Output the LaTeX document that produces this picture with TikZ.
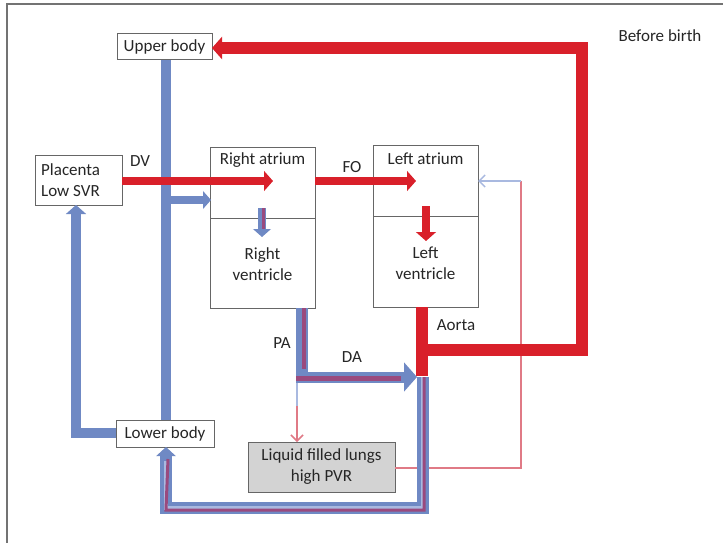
\documentclass[tikz,border=0pt]{standalone}
\usepackage{fontspec}
\setmainfont{Carlito}
\usetikzlibrary{arrows.meta,calc}
\definecolor{bl}{HTML}{6F89C4}
\definecolor{rd}{HTML}{D9202A}
\definecolor{pu}{HTML}{9A4A7E}
\definecolor{pk}{HTML}{E07A86}
\definecolor{lb}{HTML}{A9B9E0}
\definecolor{gr}{HTML}{D3D3D3}
\tikzset{
  box/.style={draw=black!60, line width=1pt, fill=white, inner sep=0pt, align=center},
  txt/.style={font=\fontsize{17}{21}\selectfont, text=black!85, inner sep=0pt, align=center},
  bluef/.style={draw=bl, line width=10pt},
  redf/.style={draw=rd, line width=12pt},
  bigtip/.style={-{Triangle[width=#1*2.2, length=#1*1.0]}},
}
\begin{document}
\begin{tikzpicture}[x=1pt,y=-1pt]
\useasboundingbox (0,0) rectangle (723,543);
\fill[white] (0,0) rectangle (723,543);
\draw[black!55, line width=1.2pt] (7,543) -- (7,4) -- (723,4);

% boxes
\node[box, minimum width=95, minimum height=26] (ub) at (164.5,47) {};
\node[box, minimum width=87, minimum height=50] (pl) at (78.5,180) {};
\node[box, minimum width=105, minimum height=71] (ra) at (262.5,182.5) {};
\node[box, minimum width=105, minimum height=90] (rv) at (262.5,263) {};
\node[box, minimum width=105, minimum height=71] (la) at (425.5,180.5) {};
\node[box, minimum width=105, minimum height=91] (lv) at (425.5,261.5) {};
\node[box, minimum width=98, minimum height=27] (lb) at (165,433.5) {};
\node[box, fill=gr, minimum width=147, minimum height=50] (lu) at (321.5,467) {};

% coordinates
\coordinate (vtop) at (166,60);
\coordinate (vbot) at (166,420);
\coordinate (vbr) at (166,200);
\coordinate (ratip) at (211,200);
\coordinate (dvs) at (122,181);
\coordinate (dve) at (273,181);
\coordinate (fos) at (315,181);
\coordinate (foe) at (416,181);
\coordinate (lad1) at (426,206);
\coordinate (lad2) at (426,241);
\coordinate (rad1) at (262,208);
\coordinate (rad2) at (262,237);
\coordinate (aos) at (422,307);
\coordinate (aoe) at (422,376);
\coordinate (aoj) at (422,350);
\coordinate (aor) at (582,350);
\coordinate (aot) at (582,48);
\coordinate (ubtip) at (212,48);
\coordinate (pas) at (302,308);
\coordinate (pac) at (302,377);
\coordinate (dae) at (417,377);
\coordinate (thin1) at (297,377);
\coordinate (thin2) at (297,442);
\coordinate (da2) at (423,377);
\coordinate (db) at (423,508);
\coordinate (dl) at (166,508);
\coordinate (lbtip) at (166,447);
\coordinate (lu1) at (395,468);
\coordinate (lu2) at (521,468);
\coordinate (lu3) at (521,181);
\coordinate (latip) at (478,181);
\coordinate (lbl) at (116,433);
\coordinate (plc) at (76,433);
\coordinate (pltip) at (76,205);

% blue systemic veins
\draw[bluef] (vtop) -- (vbot);
\draw[draw=bl, line width=8pt, bigtip=8pt] (vbr) -- (ratip);
\draw[bluef, bigtip=9pt] (lbl) -- (plc) -- (pltip);

% thin lung lines
\draw[pk, line width=1.2pt] (lu1) -- (lu2) -- (lu3);
\draw[lb, line width=1.5pt, -{Straight Barb[width=12pt,length=6pt]}] (lu3) -- (latip);
\draw[lb, line width=1.5pt] (thin1) -- ($(thin1)!0.5!(thin2)$);
\draw[pk, line width=1.5pt, -{Straight Barb[width=12pt,length=6pt]}] ($(thin1)!0.45!(thin2)$) -- (thin2);

% red
\draw[draw=rd, line width=8pt, bigtip=9pt] (dvs) -- (dve);
\draw[draw=rd, line width=8pt, bigtip=9pt] (fos) -- (foe);
\draw[draw=rd, line width=8pt, bigtip=9pt] (lad1) -- (lad2);
\draw[redf, bigtip=10pt] (aoj) -- (aor) -- (aot) -- (ubtip);
\draw[redf] (aos) -- (aoe);

% mixed
\draw[draw=bl, line width=8pt, bigtip=8pt] (rad1) -- (rad2);
\draw[draw=pu, line width=3pt] ($(rad1)+(1,0)$) -- ($(rad2)+(1,-8)$);
\draw[draw=bl, line width=12pt] (pas) -- (pac);
\draw[draw=pu, line width=4pt] ($(pas)+(2,0)$) -- ($(pac)+(2,-8)$);
\draw[draw=bl, line width=11pt, bigtip=13pt] ($(pac)+(-6,0)$) -- (dae);
\draw[draw=pu, line width=5pt] ($(pac)+(-6,1)$) -- ($(dae)+(-16,1)$);
\draw[draw=bl, line width=12pt] (da2) -- (db) -- (dl) -- ($(lbtip)+(0,12)$);
\draw[draw=bl, line width=12pt, -{Triangle[width=19pt, length=9pt]}] ($(lbtip)+(0,13)$) -- (lbtip);
\draw[draw=lb, line width=4pt] (da2) -- (db) -- (dl) -- ($(lbtip)+(0,14)$);
\draw[draw=pu, line width=3pt] ($(da2)+(1,0)$) -- ($(db)+(1,2)$) -- ($(dl)+(0,2)$) -- ($(lbtip)+(2,12)$);

% texts
\node[txt] (tub) at (ub) {Upper body};
\node[txt, align=left, anchor=west] (tpl) at (41,180) {Placenta\\Low SVR};
\node[txt] (tra) at (262.5,160) {Right atrium};
\node[txt] (trv) at (262.5,264) {Right\\ventricle};
\node[txt] (tla) at (425.5,159) {Left atrium};
\node[txt] (tlv) at (425.5,263) {Left\\ventricle};
\node[txt] (tlb) at (lb) {Lower body};
\node[txt] (tlu) at (lu) {Liquid filled lungs\\high PVR};
\node[txt] (tdv) at (140,161) {DV};
\node[txt] (tfo) at (352,167) {FO};
\node[txt] (tpa) at (282,343) {PA};
\node[txt] (tda) at (352,357) {DA};
\node[txt] (tao) at (456,325) {Aorta};
\node[txt] (tbb) at (660,36) {Before birth};
\end{tikzpicture}
\end{document}
